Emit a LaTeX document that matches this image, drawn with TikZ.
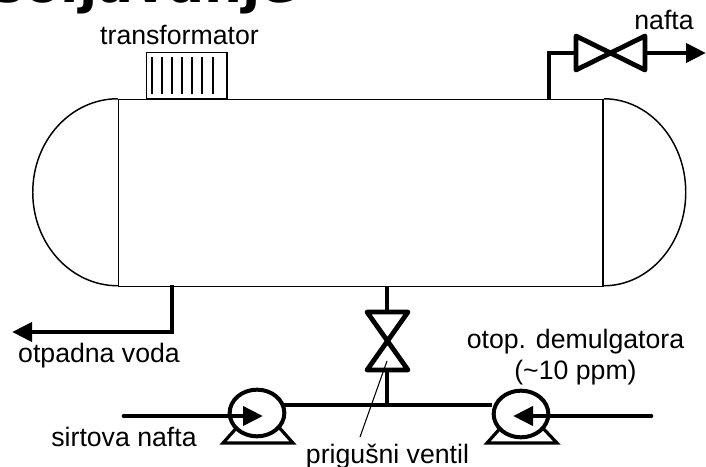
\documentclass[tikz,border=0pt]{standalone}
\usepackage{fontspec}
\setmainfont{Liberation Sans}
\newfontfamily\titlefont{DejaVu Sans}
\usetikzlibrary{arrows.meta,shapes.geometric}
\tikzset{
  x=0.75pt,y=-0.75pt,
  thin line/.style={draw=black,line width=1.1pt},
  fine line/.style={draw=black,line width=0.8pt},
  pipe/.style={draw=black,line width=3.5pt,line join=miter},
  pipeend/.style={pipe,-{Triangle[length=15pt,width=14pt]}},
  valvebody/.style={draw=black,line width=3.6pt,line join=round,line cap=round},
  pumpbody/.style={ellipse,draw=black,line width=3pt,fill=white,minimum width=41pt,minimum height=35pt,inner sep=0pt},
  pumpbase/.style={draw=black,line width=2.4pt,line join=miter},
  lbl/.style={font=\fontsize{20}{24}\selectfont,inner sep=0pt,text=black,anchor=base}
}
\begin{document}
\begin{tikzpicture}
\useasboundingbox (0,0) rectangle (706,467);
\clip (0,0) rectangle (706,467);
% title, cut off by the top edge as in the reference
\node[anchor=base east,inner sep=0pt,font=\titlefont\bfseries\fontsize{40}{48}\selectfont] (title) at (297,3) {Odsoljavanje};

% vessel
\node[thin line,minimum width=363.4pt,minimum height=140.25pt,inner sep=0pt] (vessel) at (360.75,193) {};
\draw[thin line] (vessel.north west) arc[start angle=90,end angle=270,x radius=63.75pt,y radius=70.125pt];
\draw[thin line] (vessel.north east) arc[start angle=90,end angle=-90,x radius=61.5pt,y radius=70.125pt];

% transformer
\node[thin line,anchor=south west,minimum width=60.5pt,minimum height=34.5pt,inner sep=0pt] (trafo) at (145.5,99.5) {};
\foreach \xx in {152,162,172,182,192,202,213}
  \draw[fine line,line width=1pt] (\xx,57) -- (\xx,94);
\node[lbl] (ttrafo) at (179.5,45) {transformator};

% top right: oil outlet
\coordinate (oilout) at (549,100);
\coordinate (oilbend) at (549,53);
\coordinate (vtc) at (609.5,53);
\coordinate (oilend) at (706,53);
\draw[pipe] (oilout) -- (oilbend) -- (576,53);
\draw[valvebody] (576,36) -- (645,70) -- (645,36) -- (576,70) -- cycle;
\draw[pipeend] (645,53) -- (oilend);
\node[lbl] (tnafta) at (664,30) {nafta};

% bottom left: waste water
\coordinate (wout) at (172,285);
\coordinate (wbend) at (172,332);
\coordinate (wend) at (12,332);
\draw[pipeend] (wout) -- (wbend) -- (wend);
\node[lbl] (twaste) at (99,362.5) {otpadna voda};

% throttle valve
\coordinate (vtop) at (387,286);
\coordinate (vjoin) at (387,405);
\draw[pipe] (vtop) -- (387,312);
\draw[valvebody] (367,312) -- (408,312) -- (367,370) -- (408,370) -- cycle;
\draw[pipe] (387,370) -- (vjoin);

% pumps
\draw[pumpbase] (240,424) -- (223,443) -- (293,443) -- (276,424);
\draw[pumpbase] (504,424) -- (487,443) -- (557,443) -- (539,424);
\node[pumpbody] (pumpL) at (257,413) {};
\node[pumpbody] (pumpR) at (521,414) {};
\draw[pipe] (pumpL.east |- vjoin) ++(-2,0) -- (vjoin);
\draw[pipe] (vjoin) -- (pumpR.west |- vjoin);

% pump inlets
\coordinate (inL) at (124,416);
\coordinate (inLend) at (263,416);
\coordinate (inR) at (651,416);
\coordinate (inRend) at (513,416);
\draw[pipeend,line cap=round] (inL) -- (inLend);
\draw[pipeend,line cap=round] (inR) -- (inRend);

% leader
\coordinate (leadA) at (387,361);
\coordinate (leadB) at (360,437);
\draw[fine line] (leadA) -- (leadB);

\node[lbl] (tsirt) at (124,446.5) {sirtova nafta};
\node[lbl] (tprig) at (387.5,463) {prigušni ventil};
\node[lbl] (totop) at (575.5,348) {otop. demulgatora};
\node[lbl] (tppm) at (575.5,379) {(\textasciitilde 10 ppm)};
\end{tikzpicture}
\end{document}
